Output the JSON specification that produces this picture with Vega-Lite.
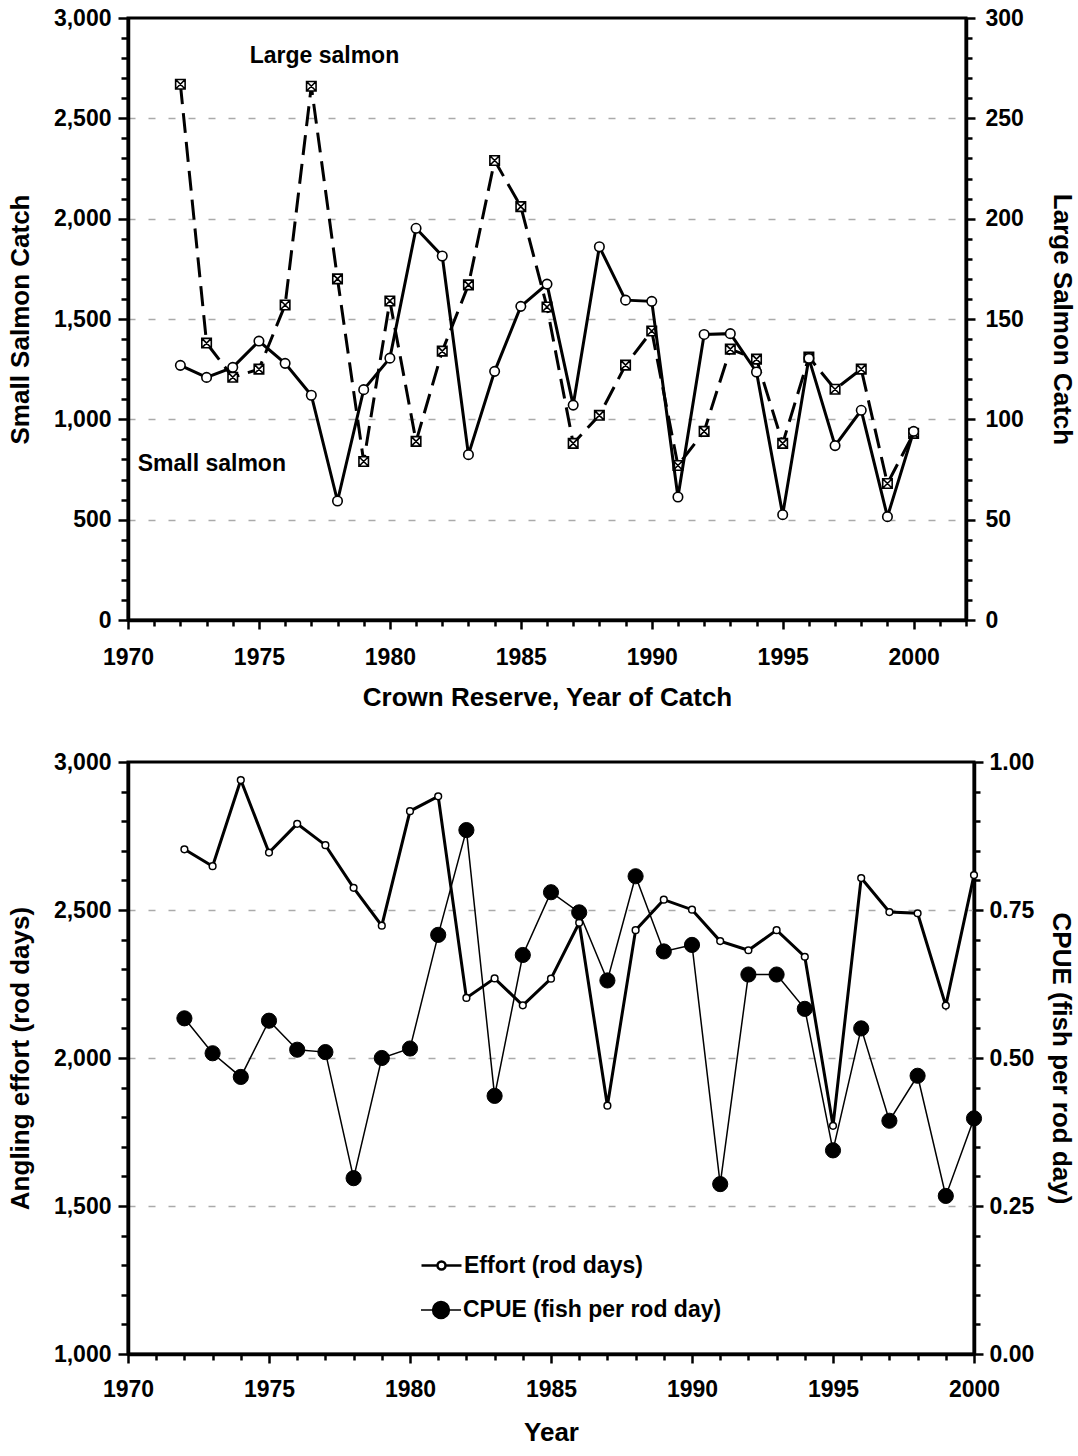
{
  "$schema": "https://vega.github.io/schema/vega-lite/v6.json",
  "background": "white",
  "padding": {"left": 5, "top": 5, "right": 5, "bottom": 5},
  "spacing": 37,
  "datasets": {
    "catch": [
      {"year": 1972, "small": 1269, "large": 267},
      {"year": 1973, "small": 1209, "large": 138},
      {"year": 1974, "small": 1259, "large": 121},
      {"year": 1975, "small": 1390, "large": 125},
      {"year": 1976, "small": 1279, "large": 157},
      {"year": 1977, "small": 1120, "large": 266},
      {"year": 1978, "small": 593, "large": 170},
      {"year": 1979, "small": 1148, "large": 79},
      {"year": 1980, "small": 1305, "large": 159},
      {"year": 1981, "small": 1952, "large": 89},
      {"year": 1982, "small": 1814, "large": 134},
      {"year": 1983, "small": 824, "large": 167},
      {"year": 1984, "small": 1239, "large": 229},
      {"year": 1985, "small": 1563, "large": 206},
      {"year": 1986, "small": 1674, "large": 156},
      {"year": 1987, "small": 1071, "large": 88},
      {"year": 1988, "small": 1860, "large": 102},
      {"year": 1989, "small": 1594, "large": 127},
      {"year": 1990, "small": 1588, "large": 144},
      {"year": 1991, "small": 613, "large": 77},
      {"year": 1992, "small": 1423, "large": 94},
      {"year": 1993, "small": 1427, "large": 135},
      {"year": 1994, "small": 1236, "large": 130},
      {"year": 1995, "small": 525, "large": 88},
      {"year": 1996, "small": 1304, "large": 131},
      {"year": 1997, "small": 869, "large": 115},
      {"year": 1998, "small": 1045, "large": 125},
      {"year": 1999, "small": 515, "large": 68},
      {"year": 2000, "small": 940, "large": 93}
    ],
    "notes": [
      {"year": 1977.5, "at": 2810, "label": "Large salmon"},
      {"year": 1973.2, "at": 777, "label": "Small salmon"}
    ],
    "effort": [
      {"year": 1972, "effort": 2705, "cpue": 0.567},
      {"year": 1973, "effort": 2648, "cpue": 0.508},
      {"year": 1974, "effort": 2939, "cpue": 0.468},
      {"year": 1975, "effort": 2694, "cpue": 0.563},
      {"year": 1976, "effort": 2791, "cpue": 0.514},
      {"year": 1977, "effort": 2719, "cpue": 0.51},
      {"year": 1978, "effort": 2575, "cpue": 0.297},
      {"year": 1979, "effort": 2447, "cpue": 0.5},
      {"year": 1980, "effort": 2834, "cpue": 0.516},
      {"year": 1981, "effort": 2884, "cpue": 0.708},
      {"year": 1982, "effort": 2203, "cpue": 0.885},
      {"year": 1983, "effort": 2269, "cpue": 0.436},
      {"year": 1984, "effort": 2178, "cpue": 0.674},
      {"year": 1985, "effort": 2268, "cpue": 0.78},
      {"year": 1986, "effort": 2457, "cpue": 0.746},
      {"year": 1987, "effort": 1839, "cpue": 0.631},
      {"year": 1988, "effort": 2432, "cpue": 0.807},
      {"year": 1989, "effort": 2535, "cpue": 0.68},
      {"year": 1990, "effort": 2501, "cpue": 0.691},
      {"year": 1991, "effort": 2395, "cpue": 0.287},
      {"year": 1992, "effort": 2364, "cpue": 0.641},
      {"year": 1993, "effort": 2432, "cpue": 0.641},
      {"year": 1994, "effort": 2342, "cpue": 0.583},
      {"year": 1995, "effort": 1771, "cpue": 0.344},
      {"year": 1996, "effort": 2608, "cpue": 0.55},
      {"year": 1997, "effort": 2493, "cpue": 0.394},
      {"year": 1998, "effort": 2489, "cpue": 0.47},
      {"year": 1999, "effort": 2177, "cpue": 0.267},
      {"year": 2000, "effort": 2618, "cpue": 0.398}
    ]
  },
  "vconcat": [
    {
      "width": 838,
      "height": 602,
      "data": {"name": "catch"},
      "encoding": {
        "x": {
          "field": "year",
          "type": "quantitative",
          "scale": {"domain": [1970, 2002], "nice": false, "zero": false},
          "axis": {
            "title": "Crown Reserve, Year of Catch",
            "grid": false,
            "format": "d",
            "values": [1970, 1971, 1972, 1973, 1974, 1975, 1976, 1977, 1978, 1979, 1980, 1981, 1982, 1983, 1984, 1985, 1986, 1987, 1988, 1989, 1990, 1991, 1992, 1993, 1994, 1995, 1996, 1997, 1998, 1999, 2000, 2001, 2002],
            "labelExpr": "datum.value % 5 === 0 ? datum.label : ''",
            "tickSize": {"condition": {"test": "datum.value % 5 === 0", "value": 9}, "value": 6},
            "labelPadding": 17,
            "titlePadding": 15
          }
        }
      },
      "layer": [
        {
          "encoding": {
            "y": {
              "field": "large",
              "type": "quantitative",
              "scale": {"domain": [0, 300], "nice": false},
              "axis": {
                "orient": "right",
                "title": "Large Salmon Catch",
                "grid": false,
                "format": "d",
                "values": [0, 10, 20, 30, 40, 50, 60, 70, 80, 90, 100, 110, 120, 130, 140, 150, 160, 170, 180, 190, 200, 210, 220, 230, 240, 250, 260, 270, 280, 290, 300],
                "labelExpr": "datum.value % 50 === 0 ? datum.label : ''",
                "tickSize": {"condition": {"test": "datum.value % 50 === 0", "value": 9}, "value": 6},
                "labelPadding": 10,
                "titlePadding": 25
              }
            }
          },
          "layer": [
            {"mark": {"type": "line", "color": "black", "strokeWidth": 3, "strokeDash": [20, 9]}},
            {"mark": {"type": "point", "shape": "M-1,-1H1V1H-1ZM-1,-1L1,1M1,-1L-1,1", "filled": true, "fill": "white", "stroke": "black", "strokeWidth": 1.6, "size": 90, "opacity": 1}}
          ]
        },
        {
          "encoding": {
            "y": {
              "field": "small",
              "type": "quantitative",
              "scale": {"domain": [0, 3000], "nice": false},
              "axis": {
                "orient": "left",
                "title": "Small Salmon Catch",
                "format": ",d",
                "values": [0, 100, 200, 300, 400, 500, 600, 700, 800, 900, 1000, 1100, 1200, 1300, 1400, 1500, 1600, 1700, 1800, 1900, 2000, 2100, 2200, 2300, 2400, 2500, 2600, 2700, 2800, 2900, 3000],
                "labelExpr": "datum.value % 500 === 0 ? datum.label : ''",
                "tickSize": {"condition": {"test": "datum.value % 500 === 0", "value": 10}, "value": 7},
                "grid": true,
                "gridOpacity": {"condition": {"test": "datum.value % 500 === 0 && datum.value > 0 && datum.value < 3000", "value": 1}, "value": 0},
                "labelPadding": 7,
                "titlePadding": 20
              }
            }
          },
          "layer": [
            {"mark": {"type": "line", "color": "black", "strokeWidth": 3}},
            {"mark": {"type": "point", "shape": "circle", "filled": true, "fill": "white", "stroke": "black", "strokeWidth": 1.6, "size": 90, "opacity": 1}},
            {
              "data": {"name": "notes"},
              "mark": {"type": "text", "font": "Liberation Sans", "fontSize": 23, "fontWeight": "bold", "color": "black", "align": "center", "baseline": "middle"},
              "encoding": {
                "y": {"field": "at", "type": "quantitative"},
                "text": {"field": "label", "type": "nominal"}
              }
            }
          ]
        }
      ],
      "resolve": {"scale": {"y": "independent"}}
    },
    {
      "width": 846,
      "height": 592,
      "data": {"name": "effort"},
      "encoding": {
        "x": {
          "field": "year",
          "type": "quantitative",
          "scale": {"domain": [1970, 2000], "nice": false, "zero": false},
          "axis": {
            "title": "Year",
            "grid": false,
            "format": "d",
            "values": [1970, 1971, 1972, 1973, 1974, 1975, 1976, 1977, 1978, 1979, 1980, 1981, 1982, 1983, 1984, 1985, 1986, 1987, 1988, 1989, 1990, 1991, 1992, 1993, 1994, 1995, 1996, 1997, 1998, 1999, 2000],
            "labelExpr": "datum.value % 5 === 0 ? datum.label : ''",
            "tickSize": {"condition": {"test": "datum.value % 5 === 0", "value": 9}, "value": 6},
            "labelPadding": 15,
            "titlePadding": 18
          }
        }
      },
      "layer": [
        {
          "encoding": {
            "y": {
              "field": "effort",
              "type": "quantitative",
              "scale": {"domain": [1000, 3000], "nice": false, "zero": false},
              "axis": {
                "orient": "left",
                "title": "Angling effort (rod days)",
                "format": ",d",
                "values": [1000, 1100, 1200, 1300, 1400, 1500, 1600, 1700, 1800, 1900, 2000, 2100, 2200, 2300, 2400, 2500, 2600, 2700, 2800, 2900, 3000],
                "labelExpr": "datum.value % 500 === 0 ? datum.label : ''",
                "tickSize": {"condition": {"test": "datum.value % 500 === 0", "value": 10}, "value": 7},
                "grid": true,
                "gridOpacity": {"condition": {"test": "datum.value % 500 === 0 && datum.value > 1000 && datum.value < 3000", "value": 1}, "value": 0},
                "labelPadding": 7,
                "titlePadding": 20
              }
            }
          },
          "layer": [
            {"mark": {"type": "line", "color": "black", "strokeWidth": 3}},
            {
              "mark": {"type": "point", "shape": "circle", "filled": true, "fill": "white", "strokeWidth": 1.5, "size": 45, "opacity": 1},
              "encoding": {
                "stroke": {
                  "datum": "Effort (rod days)",
                  "type": "nominal",
                  "scale": {"range": ["black"]},
                  "legend": {
                    "title": null,
                    "orient": "none",
                    "legendX": 292,
                    "legendY": 1226,
                    "symbolType": "M-1,0H-0.2M0.2,0H1M-0.2,0A0.2,0.2,0,1,1,0.2,0A0.2,0.2,0,1,1,-0.2,0Z",
                    "symbolSize": 1600,
                    "symbolFillColor": "white",
                    "symbolStrokeWidth": 2.5,
                    "symbolOpacity": 1
                  }
                }
              }
            }
          ]
        },
        {
          "encoding": {
            "y": {
              "field": "cpue",
              "type": "quantitative",
              "scale": {"domain": [0, 1], "nice": false},
              "axis": {
                "orient": "right",
                "title": "CPUE (fish per rod day)",
                "grid": false,
                "format": ".2f",
                "values": [0, 0.05, 0.1, 0.15, 0.2, 0.25, 0.3, 0.35, 0.4, 0.45, 0.5, 0.55, 0.6, 0.65, 0.7, 0.75, 0.8, 0.85, 0.9, 0.95, 1],
                "labelExpr": "round(datum.value * 100) % 25 === 0 ? datum.label : ''",
                "tickSize": {"condition": {"test": "round(datum.value * 100) % 25 === 0", "value": 9}, "value": 6},
                "labelPadding": 6,
                "titlePadding": 14
              }
            }
          },
          "layer": [
            {"mark": {"type": "line", "color": "black", "strokeWidth": 1.5}},
            {
              "mark": {"type": "point", "shape": "circle", "filled": true, "stroke": "black", "strokeWidth": 1, "size": 230, "opacity": 1},
              "encoding": {
                "fill": {
                  "datum": "CPUE (fish per rod day)",
                  "type": "nominal",
                  "scale": {"range": ["black"]},
                  "legend": {
                    "title": null,
                    "orient": "none",
                    "legendX": 292,
                    "legendY": 1271,
                    "symbolType": "M-1,0H1M-0.42,0A0.42,0.42,0,1,1,0.42,0A0.42,0.42,0,1,1,-0.42,0Z",
                    "symbolSize": 1600,
                    "symbolStrokeColor": "black",
                    "symbolStrokeWidth": 1.5,
                    "symbolOpacity": 1
                  }
                }
              }
            }
          ]
        }
      ],
      "resolve": {"scale": {"y": "independent"}}
    }
  ],
  "config": {
    "font": "Liberation Sans",
    "view": {"stroke": "black", "strokeWidth": 3},
    "axis": {
      "domainColor": "black",
      "domainWidth": 3.5,
      "tickColor": "black",
      "tickWidth": 2.5,
      "labelFont": "Liberation Sans",
      "labelFontSize": 23,
      "labelFontWeight": "bold",
      "labelColor": "black",
      "labelOverlap": false,
      "labelFlush": false,
      "titleFont": "Liberation Sans",
      "titleFontSize": 26,
      "titleFontWeight": "bold",
      "titleColor": "black",
      "gridColor": "#aaaaaa",
      "gridDash": [7, 13],
      "gridWidth": 1.5
    },
    "legend": {
      "labelFont": "Liberation Sans",
      "labelFontSize": 23,
      "labelFontWeight": "bold",
      "labelColor": "black",
      "labelOffset": 1,
      "labelLimit": 400
    }
  }
}
